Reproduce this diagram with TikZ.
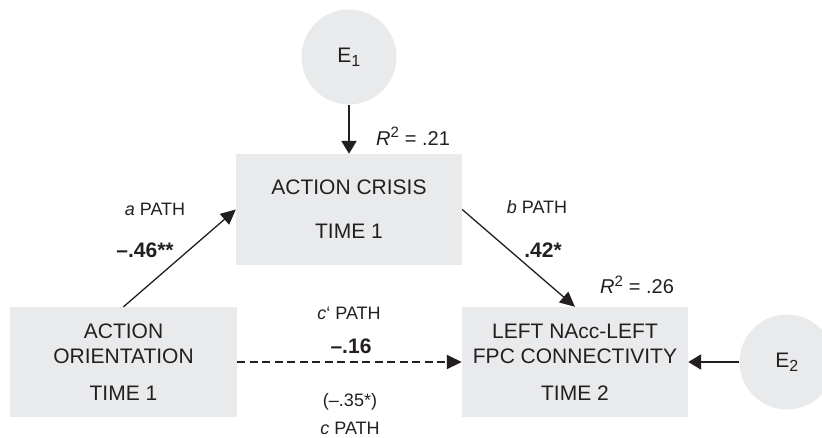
\documentclass[tikz,border=0pt]{standalone}
\usepackage{fontspec}
\setmainfont{Liberation Sans}
\usetikzlibrary{positioning,arrows.meta}
\definecolor{boxgray}{HTML}{E9EAEC}
\definecolor{inkgray}{HTML}{231F20}

\begin{document}
\begin{tikzpicture}[x=1pt,y=-1pt,
  every node/.style={text=inkgray},
  varbox/.style={fill=boxgray, minimum width=226pt, minimum height=110pt, align=center, inner sep=0pt, font=\fontsize{21}{25}\selectfont},
  errnode/.style={circle, fill=boxgray, minimum size=95pt, inner sep=0pt, font=\fontsize{21}{25}\selectfont},
  pathlbl/.style={font=\fontsize{18}{21}\selectfont},
  rsqlbl/.style={font=\fontsize{20}{22}\selectfont},
  coeflbl/.style={font=\fontsize{21}{24}\selectfont\bfseries},
  thinarr/.style={draw=inkgray, line width=1.3pt, -{Triangle[length=15pt,width=14pt]}},
  thickarr/.style={draw=inkgray, line width=2.2pt, -{Triangle[length=13pt,width=15pt]}}]
\useasboundingbox (0,0) rectangle (822,437);
\node [varbox, minimum width=227pt] (orient) at (123.5,362) {ACTION\\ORIENTATION\\[12pt]TIME 1};
\node [varbox, minimum height=111pt] (crisis) at (349,209.5) {ACTION CRISIS\\[19pt]TIME 1};
\node [varbox] (conn) at (575,362) {LEFT NAcc-LEFT\\FPC CONNECTIVITY\\[12pt]TIME 2};
\node [errnode] (e1) at (349,57) {E\textsubscript{\fontsize{16}{16}\selectfont 1}};
\node [errnode] (e2) at (787,362) {E\textsubscript{\fontsize{16}{16}\selectfont 2}};
\draw [thickarr] (e1) -- (crisis);
\draw [thickarr] (e2) -- (conn);
\draw [thinarr] (orient.north) -- (crisis.west);
\draw [thinarr] (crisis.east) -- (conn.north);
\draw [thinarr, line width=1.7pt, dash pattern=on 8pt off 4.5pt] (orient) -- (conn);
\node [rsqlbl] (rsq1) at (413,136) {\textit{R}\textsuperscript{\fontsize{15}{15}\selectfont 2} = .21};
\node [rsqlbl] (rsq2) at (637,285) {\textit{R}\textsuperscript{\fontsize{15}{15}\selectfont 2} = .26};
\node [pathlbl] (apath) at (155,209) {\textit{a} PATH};
\node [coeflbl] (acoef) at (145,250) {–.46**};
\node [pathlbl] (bpath) at (537,207) {\textit{b} PATH};
\node [coeflbl] (bcoef) at (543,250) {.42*};
\node [pathlbl] (cppath) at (349,313) {\textit{c}‘ PATH};
\node [coeflbl] (cpcoef) at (351,346) {–.16};
\node [pathlbl] (ccoef) at (350,402) {(–.35*)};
\node [pathlbl] (cpath) at (350,428) {\textit{c} PATH};
\end{tikzpicture}
\end{document}
